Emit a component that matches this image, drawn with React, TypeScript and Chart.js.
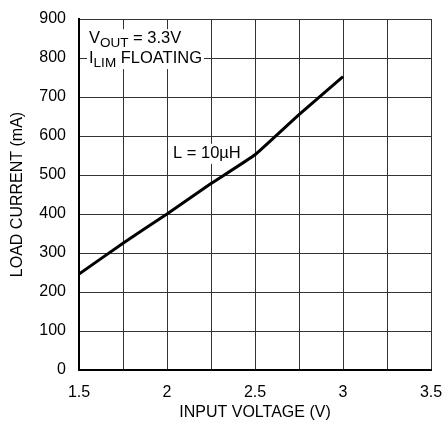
import React, { useEffect, useRef } from "react";
import { Chart, registerables } from "chart.js";

Chart.register(...registerables);

const inputVoltage = [1.5, 1.75, 2, 2.25, 2.5, 2.75, 3];
const loadCurrent = [246, 325, 400, 478, 552, 655, 752];
const xTickValues = [1.5, 2, 2.5, 3, 3.5];
const yTickMax = 900;

const FONT = "'Liberation Sans', Arial, sans-serif";

type Part = { text: string; sub?: boolean };
const noteLines: { x: number; y: number; parts: Part[] }[] = [
  { x: 1.557, y: 838, parts: [{ text: "V" }, { text: "OUT", sub: true }, { text: " = 3.3V" }] },
  { x: 1.557, y: 787, parts: [{ text: "I" }, { text: "LIM", sub: true }, { text: " FLOATING" }] },
  { x: 2.034, y: 544, parts: [{ text: "L = 10µH" }] },
];

const notesPlugin = {
  id: "notes",
  beforeDatasetsDraw(chart: any) {
    const ctx = chart.ctx as CanvasRenderingContext2D;
    const xs = chart.scales.x;
    const ys = chart.scales.y;
    ctx.save();
    ctx.textBaseline = "alphabetic";
    ctx.textAlign = "left";
    for (const line of noteLines) {
      const px = xs.getPixelForValue(line.x);
      const py = ys.getPixelForValue(line.y);
      let w = 0;
      for (const p of line.parts) {
        ctx.font = `${p.sub ? 13.5 : 16.5}px ${FONT}`;
        w += ctx.measureText(p.text).width;
      }
      ctx.fillStyle = "#fff";
      ctx.fillRect(px - 2, py - 14, w + 4, 20);
      let cx = px;
      ctx.fillStyle = "#000";
      for (const p of line.parts) {
        ctx.font = `${p.sub ? 13.5 : 16.5}px ${FONT}`;
        ctx.fillText(p.text, cx, py + (p.sub ? 4 : 0));
        cx += ctx.measureText(p.text).width;
      }
    }
    ctx.restore();
  },
};

export default function App() {
  const ref = useRef<HTMLCanvasElement>(null);
  useEffect(() => {
    if (!ref.current) return;
    const chart = new Chart(ref.current, {
      type: "line",
      data: {
        datasets: [
          {
            data: inputVoltage.map((v, i) => ({ x: v, y: loadCurrent[i] })),
            borderColor: "#000",
            borderWidth: 3,
            pointRadius: 0,
            tension: 0.1,
            fill: false,
          },
        ],
      },
      options: {
        responsive: false,
        animation: false,
        devicePixelRatio: 1,
        layout: { autoPadding: false, padding: { top: 19, right: 14, left: 0, bottom: 0 } },
        plugins: { legend: { display: false }, tooltip: { enabled: false } },
        scales: {
          x: {
            type: "linear",
            min: 1.5,
            max: 3.5,
            afterFit: (s: any) => {
              s.height = 55;
              s.paddingLeft = 0;
              s.paddingRight = 0;
            },
            ticks: {
              stepSize: 0.25,
              autoSkip: false,
              maxRotation: 0,
              padding: 13,
              color: "#000",
              font: { size: 16, family: FONT },
              callback: (v: any) => {
                const n = Number(v);
                return xTickValues.some((t) => Math.abs(t - n) < 1e-6) ? String(n) : "";
              },
            },
            grid: { color: "#333", lineWidth: 1, drawTicks: false },
            border: { display: true, color: "#000", width: 2 },
            title: {
              display: true,
              text: "INPUT VOLTAGE (V)",
              color: "#000",
              font: { size: 16, family: FONT },
              padding: { top: 0, bottom: 3 },
            },
          },
          y: {
            min: 0,
            max: yTickMax,
            afterFit: (s: any) => {
              s.width = 79;
              s.paddingTop = 0;
              s.paddingBottom = 0;
            },
            ticks: {
              stepSize: 100,
              padding: 13,
              color: "#000",
              font: { size: 16, family: FONT },
            },
            grid: { color: "#333", lineWidth: 1, drawTicks: false },
            border: { display: true, color: "#000", width: 2 },
            title: {
              display: true,
              text: "LOAD CURRENT (mA)",
              color: "#000",
              font: { size: 16, family: FONT },
              padding: { top: 8, bottom: 0 },
            },
          },
        },
      },
      plugins: [notesPlugin],
    });
    return () => chart.destroy();
  }, []);
  return (
    <div style={{ position: "fixed", left: 0, top: 0, width: 445, height: 425, background: "#fff" }}>
      <canvas ref={ref} width={445} height={425} />
    </div>
  );
}
